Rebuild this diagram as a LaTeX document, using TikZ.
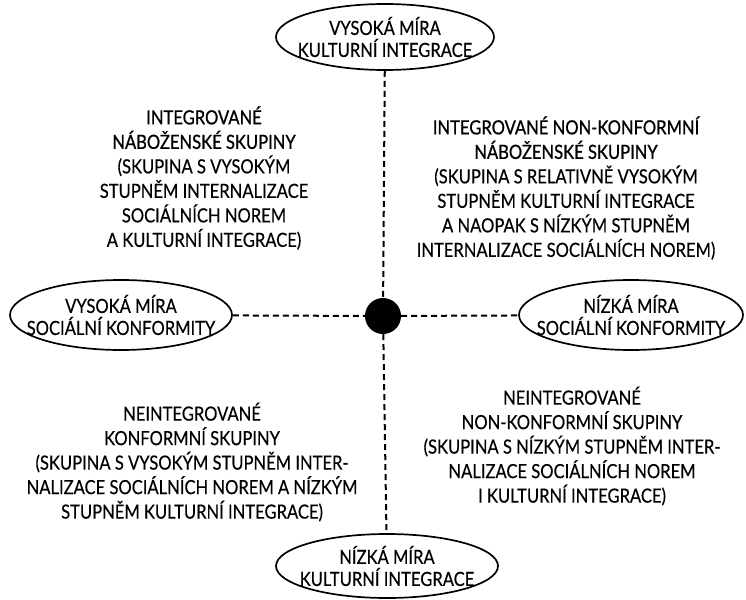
\documentclass[tikz,border=0pt]{standalone}
\usepackage{fontspec}
\setmainfont{Lato}[FakeStretch=0.85,FakeBold=0.35]
\newfontfamily\headfont{Lato}[FakeStretch=0.85,FakeBold=0.8]
\usetikzlibrary{shapes.geometric}
\tikzset{
  pole/.style={ellipse, draw, line width=1.7pt, inner sep=0pt},
  poletext/.style={align=center, inner sep=0pt, font=\fontsize{19.5}{22}\selectfont},
  block/.style={align=center, inner sep=0pt, font=\fontsize{19.5}{24.5}\selectfont},
  axis/.style={line width=2pt, dash pattern=on 6pt off 4pt},
}
\begin{document}
\begin{tikzpicture}[x=1pt,y=-1pt]
\useasboundingbox (0,0) rectangle (746,599);
\node[pole, minimum width=218pt, minimum height=66pt, label={[poletext]center:VYSOKÁ MÍRA\\KULTURNÍ INTEGRACE}] (top) at (385,37) {};
\node[pole, minimum width=222pt, minimum height=70pt, label={[poletext]center:VYSOKÁ MÍRA\\SOCIÁLNÍ KONFORMITY}] (left) at (121,315) {};
\node[pole, minimum width=224pt, minimum height=70pt, label={[poletext]center:NÍZKÁ MÍRA\\SOCIÁLNÍ KONFORMITY}] (right) at (631,315) {};
\node[pole, minimum width=222pt, minimum height=64pt, label={[poletext]center:NÍZKÁ MÍRA\\KULTURNÍ INTEGRACE}] (bot) at (387,566) {};
\node[circle, fill=black, minimum size=36pt, inner sep=0pt] (dot) at (383,316) {};
\draw[axis] (top) -- (dot);
\draw[axis] (dot) -- (bot);
\draw[axis] (left) -- (dot);
\draw[axis] (dot) -- (right);
\node[block] (tl) at (204,178) {{\headfont INTEGROVANÉ}\\{\headfont NÁBOŽENSKÉ SKUPINY}\\(SKUPINA S VYSOKÝM\\STUPNĚM INTERNALIZACE\\SOCIÁLNÍCH NOREM\\A KULTURNÍ INTEGRACE)};
\node[block] (tr) at (566,188) {{\headfont INTEGROVANÉ NON-KONFORMNÍ}\\{\headfont NÁBOŽENSKÉ SKUPINY}\\(SKUPINA S RELATIVNĚ VYSOKÝM\\STUPNĚM KULTURNÍ INTEGRACE\\A NAOPAK S NÍZKÝM STUPNĚM\\INTERNALIZACE SOCIÁLNÍCH NOREM)};
\node[block] (bl) at (192,462) {NEINTEGROVANÉ\\KONFORMNÍ SKUPINY\\(SKUPINA S VYSOKÝM STUPNĚM INTER-\\NALIZACE SOCIÁLNÍCH NOREM A NÍZKÝM\\STUPNĚM KULTURNÍ INTEGRACE)};
\node[block] (br) at (572,446) {NEINTEGROVANÉ\\NON-KONFORMNÍ SKUPINY\\(SKUPINA S NÍZKÝM STUPNĚM INTER-\\NALIZACE SOCIÁLNÍCH NOREM\\I KULTURNÍ INTEGRACE)};
\end{tikzpicture}
\end{document}
